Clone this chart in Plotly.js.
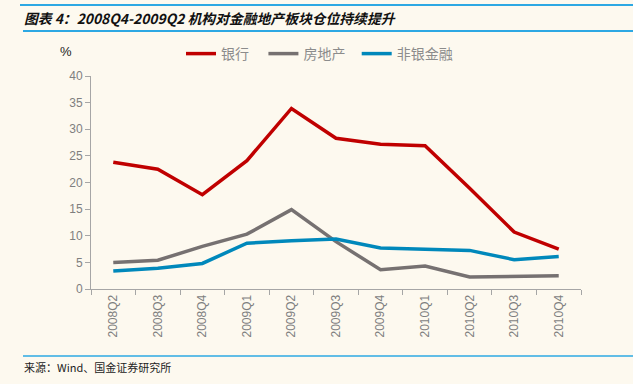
<!DOCTYPE html>
<html>
<head>
<meta charset="utf-8">
<script src="https://cdn.plot.ly/plotly-3.0.1.min.js"></script>
<style>
html,body{margin:0;padding:0;background:#FDF9EF;}
#chart{width:633px;height:384px;}
</style>
</head>
<body>
<div id="chart"></div>
<script>
var categories = ["2008Q2","2008Q3","2008Q4","2009Q1","2009Q2","2009Q3","2009Q4","2010Q1","2010Q2","2010Q3","2010Q4"];
var bankValues = [23.8, 22.5, 17.7, 24.1, 33.9, 28.3, 27.2, 26.9, 18.9, 10.7, 7.5];
var realEstateValues = [5.0, 5.4, 8.0, 10.3, 14.9, 8.9, 3.6, 4.3, 2.25, 2.4, 2.5];
var nonBankValues = [3.4, 3.9, 4.8, 8.6, 9.05, 9.4, 7.7, 7.5, 7.25, 5.5, 6.1];
var seriesNames = ["银行", "房地产", "非银金融"];
var yTicks = [0, 5, 10, 15, 20, 25, 30, 35, 40];

var cjk = '"Noto Sans CJK SC", "Liberation Sans", Arial, sans-serif';
var lat = '"Liberation Sans", Arial, "Noto Sans CJK SC", sans-serif';

function line(name, y, color) {
  return {
    type: 'scatter', mode: 'lines', name: name, x: categories, y: y,
    line: {color: color, width: 3.5}, hoverinfo: 'skip'
  };
}

var NB = '\u00A0';
var data = [
  line(seriesNames[0] + NB + NB + NB, bankValues, '#C00000'),
  line(seriesNames[1] + NB + NB, realEstateValues, '#767171'),
  line(seriesNames[2], nonBankValues, '#0088BB')
];

var L = 91, R = 52, T = 76, B = 95, W = 633, H = 384;
var pw = W - L - R, ph = H - T - B;
function px(x){ return (x - L) / pw; }
function py(y){ return (H - B - y) / ph; }

var layout = {
  width: W, height: H,
  margin: {l: L, r: R, t: T, b: B, pad: 0},
  paper_bgcolor: '#FDF9EF', plot_bgcolor: '#FDF9EF',
  showlegend: true,
  legend: {
    orientation: 'h', x: px(181), y: py(54), xanchor: 'left', yanchor: 'middle',
    font: {family: cjk, size: 14, color: '#8C8C8C'},
    bgcolor: 'rgba(0,0,0,0)', tracegroupgap: 0
  },
  xaxis: {
    type: 'category', range: [-0.5, 10.5], tickson: 'boundaries',
    ticks: 'outside', ticklen: 5, tickcolor: '#A6A6A6', tickwidth: 1,
    showline: true, linecolor: '#A6A6A6', linewidth: 1,
    showgrid: false, zeroline: false, tickangle: -90,
    tickfont: {family: lat, size: 12, color: '#7F7F7F'}, fixedrange: true
  },
  yaxis: {
    range: [0, 40], tickvals: yTicks, ticktext: yTicks.map(String),
    ticks: 'outside', ticklen: 5, tickcolor: '#A6A6A6', tickwidth: 1,
    showline: true, linecolor: '#A6A6A6', linewidth: 1,
    showgrid: false, zeroline: false,
    tickfont: {family: lat, size: 12, color: '#7F7F7F'}, fixedrange: true
  },
  shapes: [
    {type: 'line', xref: 'paper', yref: 'paper', x0: px(20), x1: px(633), y0: py(5), y1: py(5), line: {color: '#2DA8E3', width: 2}},
    {type: 'line', xref: 'paper', yref: 'paper', x0: px(23), x1: px(633), y0: py(31), y1: py(31), line: {color: '#2DA8E3', width: 2}},
    {type: 'line', xref: 'paper', yref: 'paper', x0: px(23), x1: px(633), y0: py(356), y1: py(356), line: {color: '#2DA8E3', width: 1.5}}
  ],
  annotations: [
    {xref: 'paper', yref: 'paper', x: px(22), y: py(18), xanchor: 'left', yanchor: 'middle', showarrow: false,
     text: '<b><i>图表 4：2008Q4-2009Q2 机构对金融地产板块仓位持续提升</i></b>',
     font: {family: cjk, size: 13.8, color: '#111111'}},
    {xref: 'paper', yref: 'paper', x: px(58), y: py(52), xanchor: 'left', yanchor: 'middle', showarrow: false,
     text: '%', font: {family: lat, size: 13, color: '#222222'}},
    {xref: 'paper', yref: 'paper', x: px(22), y: py(367), xanchor: 'left', yanchor: 'middle', showarrow: false,
     text: '来源：Wind、国金证券研究所', font: {family: cjk, size: 11, color: '#222222'}}
  ]
};

Plotly.newPlot('chart', data, layout, {displayModeBar: false, staticPlot: true});
</script>
</body>
</html>
